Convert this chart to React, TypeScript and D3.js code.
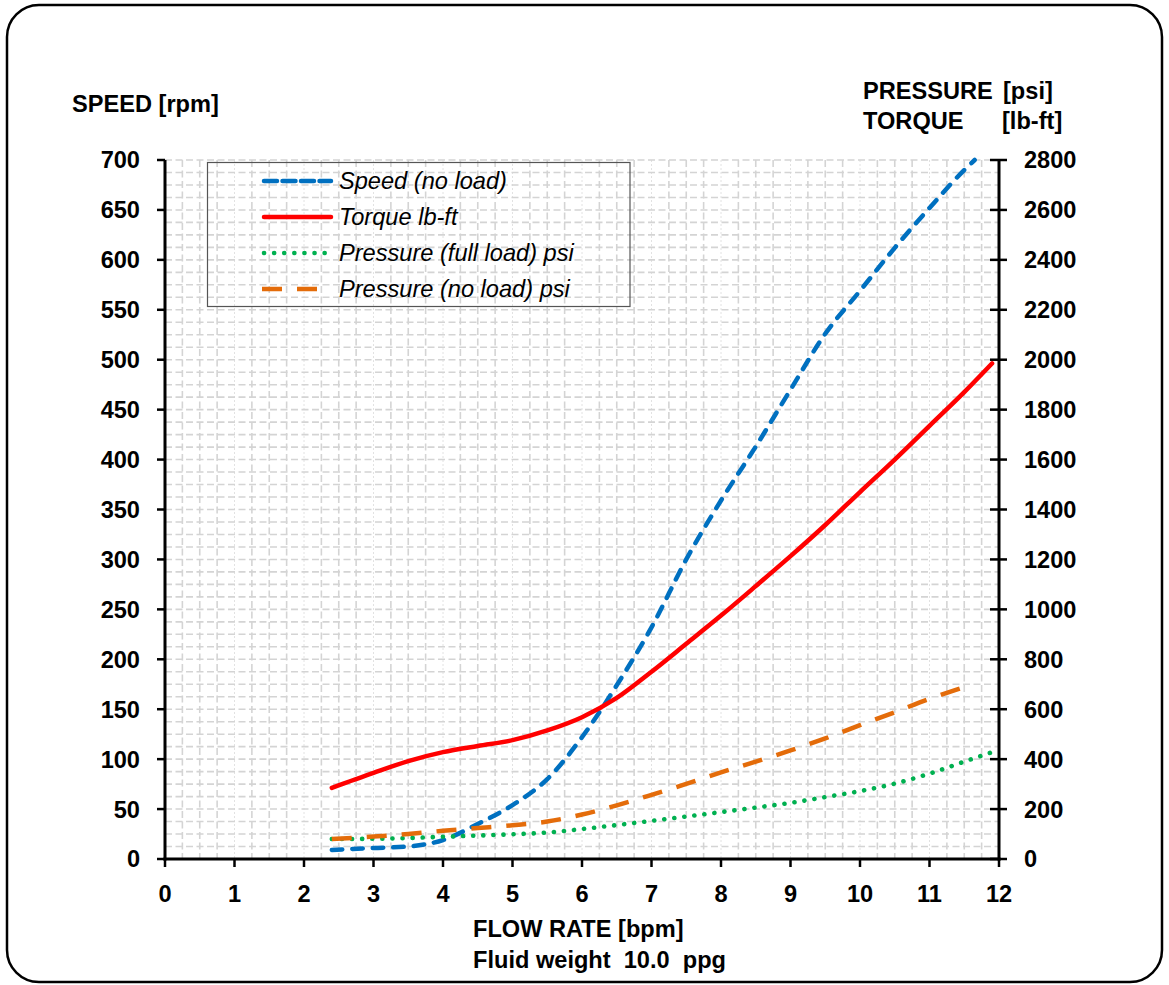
import React from "react";
import * as d3 from "d3";

// ---- data ----
const baseFlow = [2.4, 3, 3.5, 4, 4.5, 5, 5.5, 6, 6.5, 7, 7.5, 8, 8.5, 9, 9.5, 10, 10.5, 11, 11.5];

const speedFlow = [...baseFlow, 11.65];
const speedRpm = [9, 11, 12.5, 19, 35, 54, 80, 122, 174, 232, 300, 359, 413, 470, 526, 569, 612, 652, 690, 700];

const torqueFlow = [...baseFlow, 11.9];
const torqueLbFt = [285, 345, 392, 428, 453, 476, 515, 568, 645, 750, 862, 975, 1093, 1213, 1338, 1470, 1600, 1735, 1870, 1985];

const pFullFlow = [...baseFlow, 11.9];
const pressureFullPsi = [80, 81, 84, 89, 94, 99, 106, 120, 136, 153, 170, 188, 206, 225, 248, 272, 302, 342, 390, 428];

const pNoFlow = [...baseFlow, 11.6];
const pressureNoPsi = [80, 90, 100, 113, 124, 135, 150, 178, 215, 257, 301, 347, 390, 435, 483, 536, 588, 642, 688, 697];

const xTicks = [0, 1, 2, 3, 4, 5, 6, 7, 8, 9, 10, 11, 12];
const leftTicks = [0, 50, 100, 150, 200, 250, 300, 350, 400, 450, 500, 550, 600, 650, 700];
const rightTicks = [0, 200, 400, 600, 800, 1000, 1200, 1400, 1600, 1800, 2000, 2200, 2400, 2600, 2800];

const legendLabels = ["Speed (no load)", "Torque lb-ft", "Pressure (full load) psi", "Pressure (no load) psi"];

// ---- layout ----
const W = 1169;
const H = 985;
const X0 = 165, X1 = 999, Y0 = 859, Y1 = 160;
const FONT = "'Liberation Sans', Arial, Helvetica, sans-serif";
const FS = 23.6;

export default function App() {
  const x = d3.scaleLinear().domain([0, 12]).range([X0, X1]);
  const yL = d3.scaleLinear().domain([0, 700]).range([Y0, Y1]);
  const yR = d3.scaleLinear().domain([0, 2800]).range([Y0, Y1]);

  const mk = (xs: number[], ys: number[], sy: d3.ScaleLinear<number, number>) =>
    d3
      .line<number>()
      .x((_, i) => x(xs[i]))
      .y((v) => sy(v))
      .curve(d3.curveMonotoneX)(ys) || "";

  const vGrid = d3.range(1, 48).map((i) => i * 0.25);
  const hGrid = d3.range(1, 57).map((i) => i * 12.5);

  const series = [
    { color: "#0070C0", dash: "10.5,10", cap: "round", width: 4.5 },
    { color: "#FF0000", dash: "none", cap: "round", width: 4.5 },
    { color: "#00B050", dash: "0.1,10", cap: "round", width: 4.6 },
    { color: "#E46C0A", dash: "20,15", cap: "butt", width: 4.5 },
  ];

  const paths = [
    mk(speedFlow, speedRpm, yL),
    mk(torqueFlow, torqueLbFt, yR),
    mk(pFullFlow, pressureFullPsi, yR),
    mk(pNoFlow, pressureNoPsi, yR),
  ];

  const legendRows = [181, 217, 253, 289];

  return (
    <svg
      width={W}
      height={H}
      style={{ position: "absolute", left: 0, top: 0, background: "#fff" }}
      fontFamily={FONT}
    >
      <defs>
        <clipPath id="plotClip">
          <rect x={X0} y={Y1 - 3} width={X1 - X0} height={Y0 - Y1 + 3} />
        </clipPath>
      </defs>
      <rect x={0} y={0} width={W} height={H} fill="#fff" />
      {/* outer frame */}
      <rect x={7} y={5} width={1155} height={977} rx={32} ry={32} fill="none" stroke="#000" strokeWidth={2.5} />

      {/* grid */}
      <g>
        {vGrid.map((v) => {
          const major = Math.abs(v - Math.round(v)) < 1e-6;
          return (
            <line
              key={"v" + v}
              x1={x(v)}
              x2={x(v)}
              y1={Y1}
              y2={Y0}
              stroke={major ? "#e2e2e2" : "#d4d4d4"}
              strokeWidth={major ? 1 : 1.6}
              strokeDasharray={major ? "2,2" : "7,3.5"}
            />
          );
        })}
        {hGrid.map((v) => (
          <line
            key={"h" + v}
            x1={X0}
            x2={X1}
            y1={yL(v)}
            y2={yL(v)}
            stroke="#d4d4d4"
            strokeWidth={1.6}
            strokeDasharray="7,3.5"
          />
        ))}
      </g>

      {/* legend box */}
      <rect x={207.5} y={162.5} width={422.5} height={144} fill="none" stroke="#555" strokeWidth={1.2} />

      {/* series */}
      <g clipPath="url(#plotClip)">
        {paths.map((d, i) => (
          <path
            key={i}
            d={d}
            fill="none"
            stroke={series[i].color}
            strokeWidth={series[i].width}
            strokeDasharray={series[i].dash}
            strokeLinecap={series[i].cap as any}
            strokeLinejoin="round"
          />
        ))}
      </g>

      {/* legend entries */}
      {legendLabels.map((lab, i) => (
        <g key={lab}>
          <line
            x1={i === 3 ? 262 : 264}
            x2={i === 3 ? 330 : 331}
            y1={legendRows[i]}
            y2={legendRows[i]}
            stroke={series[i].color}
            strokeWidth={series[i].width}
            strokeDasharray={i === 0 ? "13,5.5" : series[i].dash}
            strokeLinecap={series[i].cap as any}
          />
          <text x={339} y={legendRows[i]} dy="0.36em" fontSize={FS} fontStyle="italic" fill="#000">
            {lab}
          </text>
        </g>
      ))}

      {/* axes */}
      <line x1={X0} x2={X0} y1={Y1} y2={Y0 + 1.5} stroke="#000" strokeWidth={3} />
      <line x1={X1} x2={X1} y1={Y1} y2={Y0 + 1.5} stroke="#000" strokeWidth={3} />
      <line x1={X0 - 1.5} x2={X1 + 1.5} y1={Y0} y2={Y0} stroke="#000" strokeWidth={3} />

      {leftTicks.map((t) => (
        <g key={"l" + t}>
          <line x1={X0 - 8} x2={X0} y1={yL(t)} y2={yL(t)} stroke="#000" strokeWidth={2.5} />
          <text x={140} y={yL(t)} dy="0.36em" textAnchor="end" fontSize={FS} fontWeight="bold">
            {t}
          </text>
        </g>
      ))}
      {rightTicks.map((t) => (
        <g key={"r" + t}>
          <line x1={X1 - 9} x2={X1 + 8} y1={yR(t)} y2={yR(t)} stroke="#000" strokeWidth={2.5} />
          <text x={1024} y={yR(t)} dy="0.36em" textAnchor="start" fontSize={FS} fontWeight="bold">
            {t}
          </text>
        </g>
      ))}
      {xTicks.map((t) => (
        <g key={"x" + t}>
          <line x1={x(t)} x2={x(t)} y1={Y0} y2={Y0 + 8} stroke="#000" strokeWidth={2.5} />
          <text x={x(t)} y={902} textAnchor="middle" fontSize={FS} fontWeight="bold">
            {t}
          </text>
        </g>
      ))}

      {/* titles */}
      <text x={72} y={112} fontSize={FS} fontWeight="bold">SPEED [rpm]</text>
      <text x={863} y={99} fontSize={FS} fontWeight="bold">PRESSURE</text>
      <text x={1003} y={99} fontSize={FS} fontWeight="bold">[psi]</text>
      <text x={863} y={129} fontSize={FS} fontWeight="bold">TORQUE</text>
      <text x={1002} y={129} fontSize={FS} fontWeight="bold">[lb-ft]</text>
      <text x={473} y={937} fontSize={FS} fontWeight="bold">FLOW RATE [bpm]</text>
      <text x={473} y={968} fontSize={FS} fontWeight="bold" style={{ whiteSpace: "pre" }}>
        {"Fluid weight  10.0  ppg"}
      </text>
    </svg>
  );
}
